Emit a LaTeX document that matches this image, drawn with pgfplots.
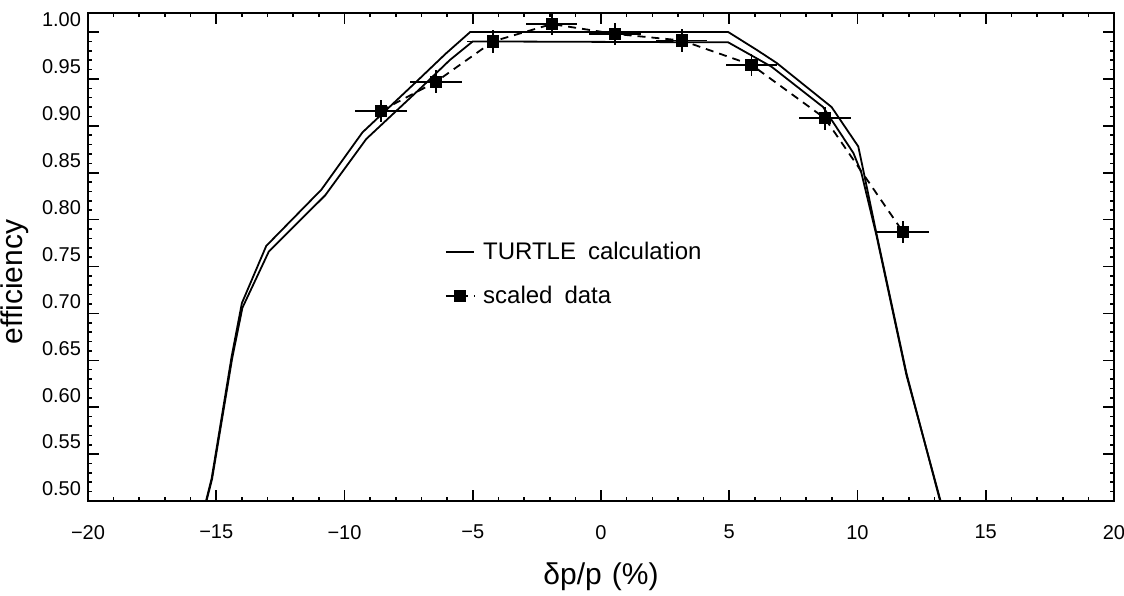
\documentclass[border=0pt]{standalone}
\usepackage{pgfplots}
\pgfplotsset{compat=1.18}
\usepackage{fontspec}
\setmainfont{Liberation Sans}
\begin{document}
\begin{tikzpicture}
\begin{axis}[
  at={(0,0)}, anchor=south west,
  scale only axis, width=513pt, height=244pt,
  xmin=-20, xmax=20, ymin=0.50, ymax=1.0203,
  xtick={-20,-15,-10,-5,0,5,10,15,20},
  xticklabels={−20,−15,−10,−5,0,5,10,15,20},
  minor x tick num=4,
  ytick={0.50,0.55,0.60,0.65,0.70,0.75,0.80,0.85,0.90,0.95,1.00},
  yticklabels={0.50,0.55,0.60,0.65,0.70,0.75,0.80,0.85,0.90,0.95,1.00},
  minor y tick num=4,
  tick align=inside, tick pos=both,
  major tick length=5.5pt, minor tick length=2pt,
  tick style={black, line width=0.8pt},
  axis line style={line width=1.2pt},
  tick label style={font=\fontsize{10}{12}\selectfont},
  yticklabel style={yshift=6pt},
  xticklabel style={yshift=-8.5pt},
  xlabel={δp/p\hspace{5pt}(\%)},
  ylabel={efficiency},
  label style={font=\fontsize{15}{17}\selectfont},
  xlabel shift=5pt,
  ylabel style={at={(ticklabel cs:0.449)}},
  legend style={at={(axis cs:-6.1,0.742)}, anchor=west, draw=none, fill=none,
    font=\fontsize{12}{14}\selectfont, row sep=10pt, column sep=3pt, inner sep=0pt,
    nodes={inner sep=1pt}},
  legend cell align=left,
  legend image code/.code={\draw[mark repeat=2,mark phase=2] plot coordinates {(0cm,0cm)(0.25cm,0cm)(0.5cm,0cm)};},
]
% TURTLE calculation, upper line
\addplot[black, line width=0.9pt] table {
x y
-15.40 0.500
-15.18 0.524
-14.40 0.654
-14.00 0.711
-13.05 0.772
-10.90 0.832
-9.30 0.893
-7.20 0.947
-6.05 0.977
-5.10 1.000
4.96 1.000
6.07 0.981
6.85 0.967
8.99 0.920
10.03 0.878
10.20 0.856
10.74 0.785
11.91 0.636
13.22 0.500
};
% TURTLE calculation, lower line
\addplot[black, line width=0.9pt, forget plot] table {
x y
-15.38 0.500
-15.16 0.524
-14.38 0.652
-13.98 0.706
-12.95 0.766
-10.75 0.826
-9.15 0.886
-7.00 0.941
-5.90 0.970
-5.00 0.990
4.96 0.989
6.65 0.963
8.66 0.920
9.84 0.871
10.15 0.850
10.74 0.783
11.91 0.634
13.24 0.500
};
% scaled data
\addplot[black, line width=0.9pt, dash pattern=on 4pt off 3pt,
  mark=square*, mark size=2.6pt, mark options={solid},
  error bars/.cd, x dir=both, x explicit, y dir=both, y explicit,
  error mark=none, error bar style={line width=0.9pt, solid}]
  table[x=x, y=y, x error=ex, y error=ey] {
x y ex ey
-8.58 0.916 1.0 0.012
-6.43 0.947 1.0 0.012
-4.21 0.990 1.0 0.012
-1.92 1.0085 1.0 0.012
0.55 0.998 1.0 0.012
3.15 0.991 1.0 0.012
5.87 0.965 1.0 0.012
8.73 0.908 1.0 0.012
11.77 0.787 1.0 0.012
};
\legend{TURTLE\hspace{6pt}calculation, scaled\hspace{6pt}data}
\end{axis}
\pgfresetboundingbox
\path[use as bounding box] (-44pt,-47pt) rectangle (518pt,250.5pt);
\end{tikzpicture}
\end{document}
